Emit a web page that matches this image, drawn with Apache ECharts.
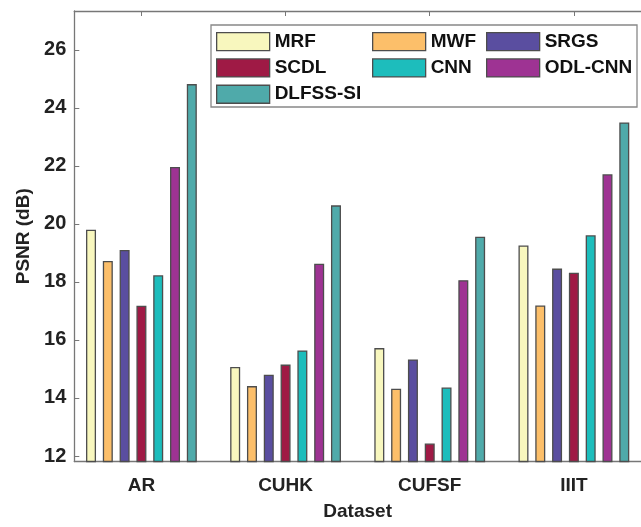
<!DOCTYPE html>
<html>
<head>
<meta charset="utf-8">
<script src="https://cdn.jsdelivr.net/npm/echarts@6/dist/echarts.min.js"></script>
<style>
html,body{margin:0;padding:0;background:#fff;}
#chart{width:641px;height:527px;}
</style>
</head>
<body>
<div id="chart"></div>
<script>
// ---- Data ----
const categories = ['AR', 'CUHK', 'CUFSF', 'IIIT'];
const seriesNames = ['MRF', 'MWF', 'SRGS', 'SCDL', 'CNN', 'ODL-CNN', 'DLFSS-SI'];
const MRF      = [19.80, 15.07, 15.72, 19.26];
const MWF      = [18.72, 14.41, 14.32, 17.19];
const SRGS     = [19.10, 14.80, 15.33, 18.46];
const SCDL     = [17.18, 15.15, 12.43, 18.32];
const CNN      = [18.23, 15.64, 14.36, 19.61];
const ODL_CNN  = [21.96, 18.63, 18.06, 21.71];
const DLFSS_SI = [24.82, 20.64, 19.56, 23.50];
const yTicks = [12, 14, 16, 18, 20, 22, 24, 26];

const seriesValues = [MRF, MWF, SRGS, SCDL, CNN, ODL_CNN, DLFSS_SI];
const colors = ['#F8F7BE', '#FCBF6A', '#5A4EA0', '#9F1A45', '#1DBDBC', '#9E3393', '#4FAAAA'];

const FONT = '"Liberation Sans", Arial, Helvetica, sans-serif';
const AX = '#777';
const TXT = '#222';

const chart = echarts.init(document.getElementById('chart'), null, {renderer: 'canvas'});

const series = seriesNames.map((name, i) => ({
  name: name,
  type: 'bar',
  xAxisIndex: 0,
  yAxisIndex: 0,
  barWidth: 10,
  barGap: '68%',
  itemStyle: { color: colors[i], borderColor: '#4d4d4d', borderWidth: 1.3 },
  data: seriesValues[i].map((v, k) => [k + 1, v])
}));

const legendCommon = {
  orient: 'vertical',
  top: 32,
  itemWidth: 53,
  itemHeight: 18,
  itemGap: 7,
  icon: 'rect',
  itemStyle: { borderColor: '#4d4d4d', borderWidth: 1.3 },
  textStyle: { fontFamily: FONT, fontSize: 19, fontWeight: 'bold', color: '#111' },
  selectedMode: false,
  padding: 0
};

const option = {
  animation: false,
  backgroundColor: '#fff',
  grid: { left: 74.3, right: -10.7, top: 11, bottom: 65.5, containLabel: false },
  xAxis: [
    {
      type: 'value',
      min: 0.5344,
      max: 4.4656,
      minInterval: 1,
      maxInterval: 1,
      name: 'Dataset',
      nameLocation: 'middle',
      nameGap: 41,
      nameTextStyle: { fontFamily: FONT, fontSize: 19, fontWeight: 'bold', color: TXT },
      axisLine: { show: true, lineStyle: { color: AX, width: 1.3 } },
      axisTick: { show: true, inside: true, length: 5, lineStyle: { color: AX } ,
        customValues: [1, 2, 3, 4] },
      axisLabel: {
        margin: 15,
        fontFamily: FONT, fontSize: 19, fontWeight: 'bold', color: TXT,
        customValues: [1, 2, 3, 4],
        formatter: v => categories[Math.round(v) - 1] || ''
      },
      splitLine: { show: false }
    },
    {
      type: 'value',
      position: 'top',
      min: 0.5344,
      max: 4.4656,
      minInterval: 1,
      maxInterval: 1,
      axisLine: { show: true, lineStyle: { color: AX, width: 1.3 } },
      axisTick: { show: true, inside: true, length: 5, lineStyle: { color: AX }, customValues: [1, 2, 3, 4] },
      axisLabel: { show: false },
      splitLine: { show: false }
    }
  ],
  yAxis: {
    type: 'value',
    min: 11.81,
    max: 27.34,
    name: 'PSNR (dB)',
    nameLocation: 'middle',
    nameGap: 41,
    nameTextStyle: { fontFamily: FONT, fontSize: 19, fontWeight: 'bold', color: TXT },
    axisLine: { show: true, lineStyle: { color: AX, width: 1.3 } },
    axisTick: { show: true, inside: true, length: 5, lineStyle: { color: AX }, customValues: yTicks },
    axisLabel: {
      margin: 8,
      fontFamily: FONT, fontSize: 20, fontWeight: 'bold', color: TXT,
      customValues: yTicks,
      formatter: v => String(Math.round(v))
    },
    splitLine: { show: false }
  },
  legend: [
    Object.assign({}, legendCommon, { left: 216, data: ['MRF', 'SCDL', 'DLFSS-SI'] }),
    Object.assign({}, legendCommon, { left: 372, data: ['MWF', 'CNN'] }),
    Object.assign({}, legendCommon, { left: 486, data: ['SRGS', 'ODL-CNN'] })
  ],
  graphic: [
    {
      type: 'rect',
      shape: { x: 211, y: 25, width: 426, height: 82 },
      style: { fill: '#fff', stroke: '#888', lineWidth: 1.3 },
      z: 0, zlevel: 0
    }
  ],
  series: series
};

chart.setOption(option);
</script>
</body>
</html>
